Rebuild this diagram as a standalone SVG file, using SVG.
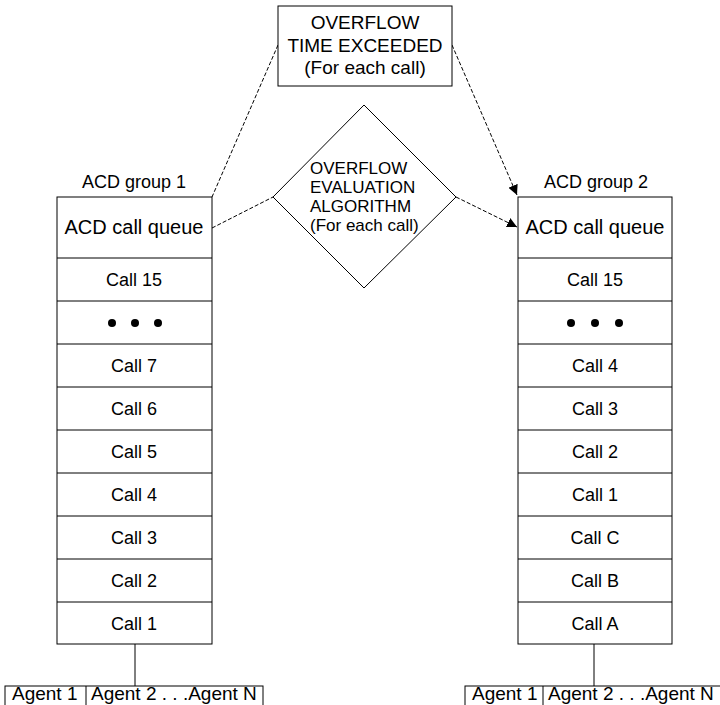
<svg xmlns="http://www.w3.org/2000/svg" width="720" height="705" viewBox="0 0 720 705">
<defs>
<style>
text{font-family:"Liberation Sans",Arial,sans-serif;fill:#000}
.box{fill:#fff;stroke:#000;stroke-width:1}
.c{text-anchor:middle;font-size:18px}
.h{text-anchor:middle;font-size:20px}
.g{text-anchor:middle;font-size:18px}
.t{text-anchor:middle;font-size:19px}
.d{font-size:17px}
.a{font-size:19px}
.dash{fill:none;stroke:#000;stroke-width:1;stroke-dasharray:4,2}
.solid{fill:none;stroke:#000;stroke-width:1}
</style>
<marker id="arr" viewBox="0 0 10 10" refX="10" refY="5" markerWidth="10" markerHeight="10" markerUnits="userSpaceOnUse" orient="auto">
<path d="M0,0 L10,5 L0,10 z" fill="#000"/>
</marker>
</defs>
<rect width="720" height="705" fill="#fff"/>

<g id="connectors">
<line class="dash" x1="278" y1="45" x2="212" y2="197"/>
<line class="dash" x1="452" y1="45" x2="517" y2="195" marker-end="url(#arr)"/>
<line class="dash" x1="212" y1="228" x2="273" y2="197"/>
<line class="dash" x1="456" y1="197" x2="517" y2="227" marker-end="url(#arr)"/>
<line class="solid" x1="135" y1="644" x2="135" y2="686"/>
<line class="solid" x1="594" y1="644" x2="594" y2="686"/>
</g>

<g id="overflow-time">
<rect class="box" x="278" y="6" width="174" height="80"/>
<text class="t" x="365" y="29">OVERFLOW</text>
<text class="t" x="365" y="52">TIME EXCEEDED</text>
<text class="t" x="365" y="74">(For each call)</text>
</g>

<g id="overflow-eval">
<polygon class="box" points="364,105 456,197 364,288 273,197"/>
<text class="d" x="310" y="174">OVERFLOW</text>
<text class="d" x="310" y="193">EVALUATION</text>
<text class="d" x="310" y="212">ALGORITHM</text>
<text class="d" x="310" y="231">(For each call)</text>
</g>

<g id="group1">
<text class="g" x="134" y="188">ACD group 1</text>
<rect class="box" x="57" y="197" width="155" height="447"/>
<line class="solid" x1="57" y1="258" x2="212" y2="258"/>
<line class="solid" x1="57" y1="301" x2="212" y2="301"/>
<line class="solid" x1="57" y1="344" x2="212" y2="344"/>
<line class="solid" x1="57" y1="387" x2="212" y2="387"/>
<line class="solid" x1="57" y1="430" x2="212" y2="430"/>
<line class="solid" x1="57" y1="473" x2="212" y2="473"/>
<line class="solid" x1="57" y1="516" x2="212" y2="516"/>
<line class="solid" x1="57" y1="559" x2="212" y2="559"/>
<line class="solid" x1="57" y1="602" x2="212" y2="602"/>
<text class="h" x="134" y="234">ACD call queue</text>
<text class="c" x="134" y="286">Call 15</text>
<circle cx="112" cy="323" r="4"/><circle cx="135" cy="323" r="4"/><circle cx="158" cy="323" r="4"/>
<text class="c" x="134" y="372">Call 7</text>
<text class="c" x="134" y="415">Call 6</text>
<text class="c" x="134" y="458">Call 5</text>
<text class="c" x="134" y="501">Call 4</text>
<text class="c" x="134" y="544">Call 3</text>
<text class="c" x="134" y="587">Call 2</text>
<text class="c" x="134" y="630">Call 1</text>
</g>

<g id="agents1">
<rect class="box" x="5" y="686" width="258" height="30"/>
<line class="solid" x1="86" y1="686" x2="86" y2="716"/>
<text class="a" x="12" y="700">Agent 1</text>
<text class="a" x="91" y="700">Agent 2 . . .Agent N</text>
</g>

<g id="group2">
<text class="g" x="596" y="188">ACD group 2</text>
<rect class="box" x="518" y="197" width="154" height="447"/>
<line class="solid" x1="518" y1="258" x2="672" y2="258"/>
<line class="solid" x1="518" y1="301" x2="672" y2="301"/>
<line class="solid" x1="518" y1="344" x2="672" y2="344"/>
<line class="solid" x1="518" y1="387" x2="672" y2="387"/>
<line class="solid" x1="518" y1="430" x2="672" y2="430"/>
<line class="solid" x1="518" y1="473" x2="672" y2="473"/>
<line class="solid" x1="518" y1="516" x2="672" y2="516"/>
<line class="solid" x1="518" y1="559" x2="672" y2="559"/>
<line class="solid" x1="518" y1="602" x2="672" y2="602"/>
<text class="h" x="595" y="234">ACD call queue</text>
<text class="c" x="595" y="286">Call 15</text>
<circle cx="571" cy="323" r="4"/><circle cx="595" cy="323" r="4"/><circle cx="619" cy="323" r="4"/>
<text class="c" x="595" y="372">Call 4</text>
<text class="c" x="595" y="415">Call 3</text>
<text class="c" x="595" y="458">Call 2</text>
<text class="c" x="595" y="501">Call 1</text>
<text class="c" x="595" y="544">Call C</text>
<text class="c" x="595" y="587">Call B</text>
<text class="c" x="595" y="630">Call A</text>
</g>

<g id="agents2">
<rect class="box" x="465" y="686" width="262" height="30"/>
<line class="solid" x1="543" y1="686" x2="543" y2="716"/>
<text class="a" x="472" y="700">Agent 1</text>
<text class="a" x="548" y="700">Agent 2 . . .Agent N</text>
</g>
</svg>
